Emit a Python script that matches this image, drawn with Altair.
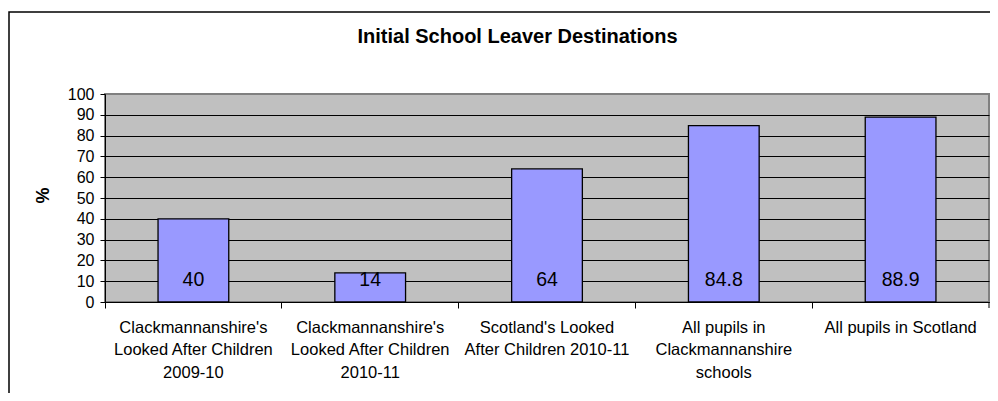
import altair as alt
import pandas as pd

title_text = "Initial School Leaver Destinations"
categories = [
    "Clackmannanshire's\nLooked After Children\n2009-10",
    "Clackmannanshire's\nLooked After Children\n2010-11",
    "Scotland's Looked\nAfter Children 2010-11",
    "All pupils in\nClackmannanshire\nschools",
    "All pupils in Scotland",
]
values = [40, 14, 64, 84.8, 88.9]
value_labels = ["40", "14", "64", "84.8", "88.9"]
y_ticks = [0, 10, 20, 30, 40, 50, 60, 70, 80, 90, 100]

df = pd.DataFrame({"category": categories, "value": values, "label": value_labels})
single = pd.DataFrame({"title": [title_text]})

FONT = "Liberation Sans"
W, H = 884, 208

x_axis = alt.Axis(
    title=None,
    labelExpr="split(datum.label, '\\n')",
    labelAngle=0,
    labelFont=FONT,
    labelFontSize=16.5,
    labelLineHeight=22.7,
    labelColor="black",
    labelPadding=11,
    labelLimit=0,
    labelOverlap=False,
    bandPosition=0,
    tickSize=6,
    tickColor="black",
    domainColor="black",
    grid=False,
)
x_scale = alt.Scale(paddingInner=0, paddingOuter=0)

y_axis = alt.Axis(
    values=y_ticks,
    title="%",
    titleFont=FONT,
    titleFontSize=18,
    titleFontWeight="bold",
    titleAngle=270,
    titleX=-61.5,
    titleY=101,
    titleAlign="center",
    titleBaseline="middle",
    titleColor="black",
    labelFont=FONT,
    labelFontSize=16,
    labelColor="black",
    labelPadding=6,
    labelOverlap=False,
    tickSize=5,
    tickColor="black",
    domainColor="black",
    grid=True,
    gridColor=alt.condition("datum.value === 100", alt.value("#808080"), alt.value("black")),
    gridWidth=1,
)
y_scale = alt.Scale(domain=[0, 100], nice=False)

bars = alt.Chart(df).mark_bar(
    color="#9999FF", stroke="black", strokeWidth=1.3, width=alt.RelativeBandSize(0.4)
).encode(
    x=alt.X("category:N", sort=None, scale=x_scale, axis=x_axis),
    y=alt.Y("value:Q", scale=y_scale, axis=y_axis),
)

texts = alt.Chart(df).mark_text(
    font=FONT, fontSize=19.5, color="black", baseline="middle", dy=-22.5
).encode(
    x=alt.X("category:N", sort=None, scale=x_scale, axis=x_axis),
    y=alt.YDatum(0, scale=y_scale, axis=y_axis),
    text="label:N",
)

end_tick = alt.Chart(single).mark_rule(color="black").encode(
    x=alt.value(W), y=alt.value(H), y2=alt.value(H + 6)
)

frame = alt.Chart(single).mark_rect(fillOpacity=0, stroke="black", strokeWidth=1.5).encode(
    x=alt.value(-96), x2=alt.value(W + 40), y=alt.value(-82), y2=alt.value(H + 120)
)

title = alt.Chart(single).mark_text(
    font=FONT, fontSize=20, fontWeight="bold", color="black",
    align="center", baseline="alphabetic"
).encode(x=alt.value(412.5), y=alt.value(-50.7), text="title:N")

chart = alt.layer(bars, texts, end_tick, frame, title).properties(
    width=W,
    height=H,
    autosize=alt.AutoSizeParams(type="none"),
    padding={"left": 97, "top": 86, "right": 1, "bottom": 91},
    background="white",
).configure_view(
    fill="#C0C0C0", stroke="#808080", strokeWidth=2
)

chart.save("out.html", embed_options={"renderer": "svg", "actions": False})
